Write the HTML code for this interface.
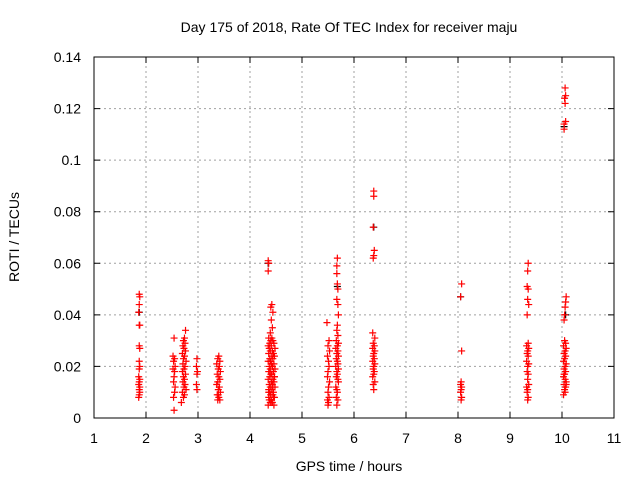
<!DOCTYPE html>
<html><head><meta charset="utf-8"><style>
html,body{margin:0;padding:0;background:#fff;}
svg{display:block;font-family:"Liberation Sans",sans-serif;}
</style></head><body>
<svg id="chart" width="640" height="480" viewBox="0 0 640 480">
<text x="349" y="32" text-anchor="middle" font-size="14">Day 175 of 2018, Rate Of TEC Index for receiver maju</text>
<text x="349" y="471" text-anchor="middle" font-size="14">GPS time / hours</text>
<text transform="translate(19,237) rotate(-90)" text-anchor="middle" font-size="14">ROTI / TECUs</text>
<g id="grid"></g><g id="ticks"></g><g id="pts"></g>
<rect x="94" y="57" width="520" height="361" fill="none" stroke="#000" stroke-width="1"/>
</svg>
<script>
const xTicks=[1,2,3,4,5,6,7,8,9,10,11];
const yTicks=[0,0.02,0.04,0.06,0.08,0.1,0.12,0.14];
const yTickLabels=["0","0.02","0.04","0.06","0.08","0.1","0.12","0.14"];
const hoursA=[1.87,1.88,1.87,1.86,1.87,1.88,1.87,1.88,1.87,1.88,1.87,1.86,1.88,1.87,1.86,1.88,1.87,1.88,1.87,1.86];
const rotiA=[0.048,0.047,0.044,0.041,0.036,0.036,0.028,0.027,0.022,0.020,0.019,0.016,0.015,0.014,0.013,0.012,0.011,0.010,0.009,0.008];
const hoursB=[2.54,2.52,2.55,2.53,2.56,2.52,2.55,2.54,2.53,2.56,2.55,2.53,2.54];
const rotiB=[0.031,0.024,0.023,0.022,0.020,0.019,0.018,0.016,0.014,0.012,0.010,0.008,0.003];
const hoursC=[2.76,2.74,2.72,2.75,2.71,2.73,2.76,2.70,2.74,2.72,2.77,2.71,2.75,2.73,2.70,2.76,2.72,2.74,2.71,2.75,2.73,2.77,2.70,2.74,2.72,2.68];
const rotiC=[0.034,0.031,0.030,0.029,0.028,0.027,0.026,0.025,0.024,0.023,0.022,0.021,0.020,0.019,0.018,0.017,0.016,0.015,0.014,0.013,0.012,0.011,0.010,0.009,0.008,0.006];
const hoursD=[2.98,2.97,2.99,2.98,2.97,2.98];
const rotiD=[0.023,0.020,0.018,0.017,0.013,0.011];
const hoursE=[3.40,3.38,3.42,3.36,3.41,3.39,3.43,3.37,3.40,3.42,3.38,3.36,3.41,3.39,3.43,3.37,3.40,3.38,3.42,3.39];
const rotiE=[0.024,0.023,0.022,0.021,0.020,0.019,0.018,0.017,0.016,0.015,0.014,0.013,0.012,0.011,0.010,0.009,0.008,0.007,0.007,0.009];
const hoursF=[4.35,4.36,4.35,4.42,4.40,4.44,4.41,4.43,4.39,4.42,4.36,4.40,4.44,4.38,4.46,4.35,4.41,4.48,4.37,4.43,4.39,4.45,4.36,4.42,4.47,4.38,4.44,4.40,4.35,4.46,4.41,4.37,4.43,4.48,4.39,4.45,4.36,4.42,4.40,4.47,4.38,4.44,4.35,4.41,4.46,4.37,4.43,4.39,4.48,4.36,4.42,4.45,4.38,4.40,4.44,4.36,4.47,4.41,4.37,4.43,4.39,4.46,4.35,4.42,4.38,4.45,4.40,4.36,4.44,4.41,4.47,4.37,4.43,4.39];
const rotiF=[0.061,0.060,0.057,0.044,0.043,0.041,0.038,0.035,0.033,0.031,0.031,0.030,0.030,0.029,0.029,0.028,0.028,0.027,0.027,0.026,0.026,0.025,0.025,0.024,0.024,0.023,0.023,0.022,0.022,0.021,0.021,0.020,0.020,0.019,0.019,0.018,0.018,0.017,0.017,0.016,0.016,0.015,0.015,0.014,0.014,0.013,0.013,0.012,0.012,0.011,0.011,0.010,0.010,0.009,0.009,0.008,0.008,0.007,0.007,0.006,0.006,0.005,0.005,0.006,0.007,0.008,0.009,0.010,0.012,0.014,0.016,0.018,0.020,0.022];
const hoursG=[5.48,5.52,5.50,5.53,5.49,5.51,5.52,5.50,5.49,5.53,5.51,5.50,5.52,5.49,5.51,5.50];
const rotiG=[0.037,0.030,0.028,0.026,0.024,0.022,0.020,0.018,0.016,0.014,0.012,0.010,0.008,0.007,0.006,0.005];
const hoursH=[5.68,5.67,5.67,5.68,5.69,5.67,5.69,5.70,5.68,5.67,5.69,5.66,5.70,5.68,5.65,5.69,5.67,5.70,5.66,5.68,5.69,5.65,5.70,5.67,5.68,5.66,5.69,5.70,5.65,5.67,5.68,5.66,5.69,5.67];
const rotiH=[0.062,0.059,0.056,0.052,0.050,0.046,0.044,0.040,0.036,0.034,0.032,0.030,0.029,0.028,0.027,0.026,0.025,0.024,0.023,0.022,0.021,0.020,0.019,0.018,0.017,0.016,0.015,0.014,0.012,0.011,0.010,0.008,0.007,0.005];
const hoursI=[6.38,6.38,6.37,6.39,6.38,6.37,6.36,6.40,6.37,6.39,6.36,6.40,6.38,6.37,6.39,6.36,6.40,6.38,6.37,6.39,6.38,6.36,6.40,6.37,6.38];
const rotiI=[0.088,0.086,0.074,0.065,0.063,0.062,0.033,0.031,0.029,0.028,0.027,0.026,0.025,0.024,0.023,0.022,0.021,0.020,0.019,0.018,0.017,0.016,0.014,0.013,0.011];
const hoursJ=[8.07,8.05,8.07,8.06,8.05,8.07,8.06,8.05,8.07,8.06];
const rotiJ=[0.052,0.047,0.026,0.014,0.013,0.012,0.011,0.010,0.008,0.007];
const hoursK=[9.35,9.34,9.33,9.35,9.34,9.36,9.33,9.35,9.32,9.36,9.34,9.33,9.35,9.32,9.36,9.34,9.33,9.35,9.34,9.36,9.32,9.34,9.33,9.35,9.34];
const rotiK=[0.060,0.057,0.051,0.050,0.046,0.044,0.040,0.029,0.028,0.027,0.026,0.025,0.024,0.022,0.021,0.020,0.018,0.017,0.015,0.013,0.012,0.011,0.010,0.008,0.007];
const hoursL=[10.06,10.07,10.05,10.06,10.07,10.04,10.04,10.08,10.07,10.06,10.05,10.04,10.05,10.07,10.03,10.08,10.06,10.04,10.07,10.05,10.03,10.08,10.06,10.04,10.07,10.05,10.03,10.06,10.08,10.04,10.07,10.05,10.06,10.03,10.08,10.04];
const rotiL=[0.128,0.125,0.124,0.122,0.115,0.114,0.112,0.047,0.045,0.043,0.040,0.038,0.030,0.029,0.028,0.027,0.026,0.025,0.024,0.023,0.022,0.021,0.020,0.019,0.018,0.017,0.016,0.015,0.014,0.013,0.012,0.011,0.010,0.009,0.013,0.017];
const blackHours=[1.87,4.35,5.68,6.38,8.05,10.04,10.07];
const blackRoti=[0.041,0.060,0.051,0.074,0.047,0.113,0.040];

const NS="http://www.w3.org/2000/svg";
const X0=94,X1=614,Y0=418,Y1=57;
function xs(h){return X0+(h-1)/10*(X1-X0);}
function ys(v){return Y0-v/0.14*(Y0-Y1);}
function mk(tag,attrs,parent){const e=document.createElementNS(NS,tag);for(const k in attrs)e.setAttribute(k,attrs[k]);parent.appendChild(e);return e;}
const grid=document.getElementById('grid'),ticks=document.getElementById('ticks'),pts=document.getElementById('pts');
xTicks.forEach((t,i)=>{
  const x=xs(t);
  if(i>0&&i<xTicks.length-1){const g=mk('line',{x1:x,x2:x,y1:Y0,y2:Y1,stroke:'#a0a0a0','stroke-dasharray':'2,3'},grid);
  
  }
  const tk=mk('path',{d:`M${x},${Y0}v-6M${x},${Y1}v6`,stroke:'#000'},ticks);
  
  
  const l=mk('text',{x:x,y:443,'text-anchor':'middle','font-size':'14'},ticks);l.textContent=t;
  
  
});
yTicks.forEach((t,i)=>{
  const y=ys(t);
  if(i>0&&i<yTicks.length-1){const g=mk('line',{x1:X0,x2:X1,y1:y,y2:y,stroke:'#a0a0a0','stroke-dasharray':'2,3'},grid);
  
  }
  const tk=mk('path',{d:`M${X0},${y}h6M${X1},${y}h-6`,stroke:'#000'},ticks);
  
  
  const l=mk('text',{x:81,y:y+5,'text-anchor':'end','font-size':'14'},ticks);l.textContent=yTickLabels[i];
  
  
});
function plot(hs,vs,color){
  hs.forEach((h,i)=>{const x=xs(h),y=ys(vs[i]);
    const p=mk('path',{d:`M${x-3.5},${y}h7M${x},${y-3.5}v7`,stroke:color,'stroke-width':'1.2'},pts);
    
    
  });
}
plot(blackHours,blackRoti,'#000');
[[hoursA,rotiA],[hoursB,rotiB],[hoursC,rotiC],[hoursD,rotiD],[hoursE,rotiE],[hoursF,rotiF],[hoursG,rotiG],[hoursH,rotiH],[hoursI,rotiI],[hoursJ,rotiJ],[hoursK,rotiK],[hoursL,rotiL]].forEach(c=>plot(c[0],c[1],'#f00'));
</script>
</body></html>
